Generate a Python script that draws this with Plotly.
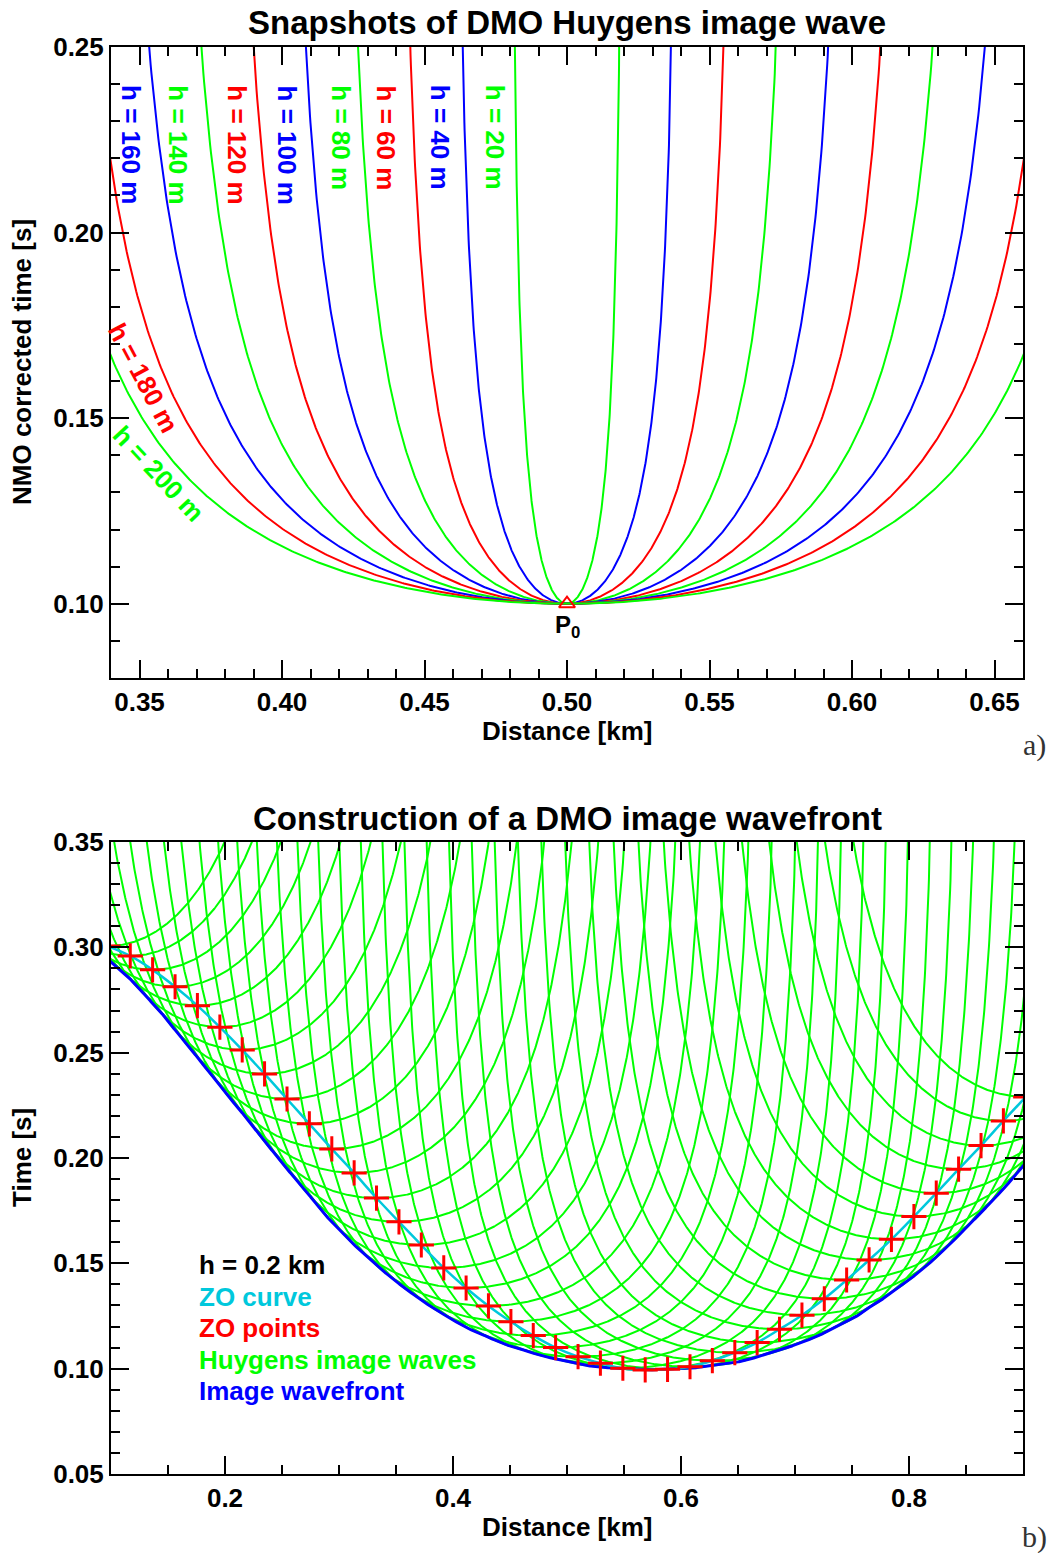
import numpy as np
import plotly.graph_objects as go

# ---------------- data ----------------
# (a) DMO Huygens image wave snapshots
h_offsets_m = [20, 40, 60, 80, 100, 120, 140, 160, 180, 200]
h_colors = ["#00FF00", "#0000FF", "#FF0000", "#00FF00", "#0000FF",
            "#FF0000", "#00FF00", "#0000FF", "#FF0000", "#00FF00"]
p0_x_km = 0.5
p0_t_s = 0.1

# (b) ZO points (distance km, time s)
zo_x = [0.0973, 0.1169, 0.1365, 0.1562, 0.1758, 0.1955, 0.2151, 0.2347, 0.2544, 0.2740,
        0.2937, 0.3133, 0.3329, 0.3526, 0.3722, 0.3919, 0.4115, 0.4311, 0.4508, 0.4704,
        0.4900, 0.5097, 0.5293, 0.5490, 0.5686, 0.5882, 0.6079, 0.6275, 0.6472, 0.6668,
        0.6864, 0.7061, 0.7257, 0.7453, 0.7650, 0.7846, 0.8043, 0.8239, 0.8435, 0.8632,
        0.8828, 0.9024]
zo_t = [0.3006, 0.2959, 0.2893, 0.2813, 0.2723, 0.2621, 0.2513, 0.2399, 0.2280, 0.2162,
        0.2043, 0.1929, 0.1810, 0.1697, 0.1587, 0.1478, 0.1383, 0.1298, 0.1223, 0.1157,
        0.1100, 0.1057, 0.1026, 0.1002, 0.0994, 0.0997, 0.1009, 0.1038, 0.1076, 0.1124,
        0.1187, 0.1254, 0.1332, 0.1421, 0.1516, 0.1614, 0.1722, 0.1833, 0.1947, 0.2059,
        0.2176, 0.2290]
h_b_km = 0.2

legend_lines = ["h = 0.2 km", "ZO curve", "ZO points", "Huygens image waves", "Image wavefront"]
legend_colors = ["#000000", "#00C8DC", "#FF0000", "#00FF00", "#0000FF"]

# ---------------- helpers ----------------
W, H = 1055, 1553
FONT = "Liberation Sans, Arial, Helvetica, sans-serif"
SERIF = "Liberation Serif, Times New Roman, serif"


def px_x(p):
    return p / W


def px_y(p):
    return 1 - p / H


def huygens_wave(xc, tc, h, tmax):
    """DMO Huygens image wave  t = tc / sqrt(1 - (x-xc)^2/h^2)."""
    thmax = np.arccos(min(tc / tmax, 0.999))
    th = np.linspace(-thmax, thmax, 600)
    return xc + h * np.sin(th), tc / np.cos(th)


fig = go.Figure()

# ---------------- panel (a) ----------------
for h_m, col in zip(h_offsets_m, h_colors):
    xs, ts = huygens_wave(p0_x_km, p0_t_s, h_m / 1000.0, 0.4)
    fig.add_trace(go.Scatter(x=xs, y=ts, mode="lines", line=dict(color=col, width=2),
                             xaxis="x", yaxis="y", hoverinfo="skip", showlegend=False))

fig.add_trace(go.Scatter(x=[p0_x_km], y=[p0_t_s], mode="markers",
                         marker=dict(symbol="triangle-up-open", size=14, color="#FF0000",
                                     line=dict(color="#FF0000", width=2)),
                         xaxis="x", yaxis="y", showlegend=False, cliponaxis=False))

# ---------------- panel (b) ----------------
gx, gy = [], []
for xc, tc in zip(zo_x, zo_t):
    xs, ts = huygens_wave(xc, tc, h_b_km, 0.45)
    gx += list(xs) + [None]
    gy += list(ts) + [None]
fig.add_trace(go.Scatter(x=gx, y=gy, mode="lines", line=dict(color="#00FF00", width=2),
                         xaxis="x2", yaxis="y2", hoverinfo="skip", showlegend=False))

# image wavefront = lower envelope of the Huygens image waves
xg = np.linspace(0.09, 0.91, 1200)
env = np.full_like(xg, np.inf)
for xc, tc in zip(zo_x, zo_t):
    d = (xg - xc) / h_b_km
    ok = np.abs(d) < 1
    val = np.full_like(xg, np.inf)
    val[ok] = tc / np.sqrt(1 - d[ok] ** 2)
    env = np.minimum(env, val)
fig.add_trace(go.Scatter(x=xg, y=env, mode="lines", line=dict(color="#0000FF", width=3),
                         xaxis="x2", yaxis="y2", hoverinfo="skip", showlegend=False))

fig.add_trace(go.Scatter(x=zo_x, y=zo_t, mode="lines", line=dict(color="#00C8DC", width=2.5, shape="spline"),
                         xaxis="x2", yaxis="y2", hoverinfo="skip", showlegend=False))
fig.add_trace(go.Scatter(x=zo_x, y=zo_t, mode="markers",
                         marker=dict(symbol="cross-thin", size=18, color="#FF0000",
                                     line=dict(color="#FF0000", width=3)),
                         xaxis="x2", yaxis="y2", hoverinfo="skip", showlegend=False))

# ---------------- axes ----------------
tickfont = dict(family=FONT, size=26, color="black", weight="bold")


def axis_common(**kw):
    d = dict(showline=True, linecolor="black", linewidth=2, mirror="allticks",
             ticks="inside", ticklen=18, tickwidth=2, tickcolor="black",
             showgrid=False, zeroline=False, tickfont=tickfont, automargin=False,
             minor=dict(ticks="inside", ticklen=9, tickwidth=2, tickcolor="black", showgrid=False))
    d.update(kw)
    return d


xa_dom = [px_x(111), px_x(1023)]
fig.update_layout(
    xaxis=axis_common(domain=xa_dom, range=[0.34, 0.66], tick0=0.35, dtick=0.05,
                      tickformat=".2f", minor_dtick=0.01, anchor="y"),
    yaxis=axis_common(domain=[px_y(678), px_y(47)], range=[0.08, 0.25], tick0=0.10, dtick=0.05,
                      tickformat=".2f", minor_dtick=0.01, anchor="x"),
    xaxis2=axis_common(domain=xa_dom, range=[0.1, 0.9], tick0=0.2, dtick=0.2,
                       tickformat=".1f", minor_dtick=0.05, anchor="y2"),
    yaxis2=axis_common(domain=[px_y(1474), px_y(842)], range=[0.05, 0.35], tick0=0.05, dtick=0.05,
                       tickformat=".2f", minor_dtick=0.01, anchor="x2"),
)

# ---------------- text ----------------
ann = []


def add_text(text, x, y, size=26, color="black", angle=0, xref="paper", yref="paper",
             xanchor="center", yanchor="middle", bold=True, family=FONT):
    t = f"<b>{text}</b>" if bold else text
    ann.append(dict(text=t, x=x, y=y, xref=xref, yref=yref, showarrow=False,
                    xanchor=xanchor, yanchor=yanchor, textangle=angle,
                    font=dict(family=family, size=size, color=color)))


add_text("Snapshots of DMO Huygens image wave", px_x(567), px_y(22), size=33)
add_text("Distance [km]", px_x(567), px_y(731), size=26)
add_text("NMO corrected time [s]", px_x(22), px_y(362), size=26, angle=-90)
add_text("a)", px_x(1034), px_y(745), size=30, color="#333333", bold=False, family=SERIF)

add_text("Construction of a DMO image wavefront", px_x(567), px_y(818), size=33)
add_text("Distance [km]", px_x(567), px_y(1527), size=26)
add_text("Time [s]", px_x(22), px_y(1158), size=26, angle=-90)
add_text("b)", px_x(1034), px_y(1537), size=30, color="#333333", bold=False, family=SERIF)

# curve labels in panel (a)
label_pos = {20: (0.4750, 0.2256, 90), 40: (0.4557, 0.2256, 90), 60: (0.4365, 0.2256, 90),
             80: (0.4208, 0.2256, 90), 100: (0.4019, 0.2236, 90), 120: (0.3841, 0.2236, 90),
             140: (0.3634, 0.2236, 90), 160: (0.3470, 0.2236, 90),
             180: (0.3514, 0.1609, 62), 200: (0.3568, 0.1350, 47)}
for h_m, col in zip(h_offsets_m, h_colors):
    lx, ly, ang = label_pos[h_m]
    add_text(f"h = {h_m} m", lx, ly, size=26, color=col, angle=ang, xref="x", yref="y")

add_text("P<sub>0</sub>", p0_x_km, px_y(626), size=24, xref="x", yref="paper")

# legend text in panel (b)
for i, (txt, col) in enumerate(zip(legend_lines, legend_colors)):
    add_text(txt, px_x(197), px_y(1265 + 31.5 * i), size=26, color=col, xanchor="left")

fig.update_layout(annotations=ann, width=W, height=H,
                  margin=dict(l=0, r=0, t=0, b=0),
                  paper_bgcolor="white", plot_bgcolor="white", showlegend=False)

fig.write_html("out.html")
